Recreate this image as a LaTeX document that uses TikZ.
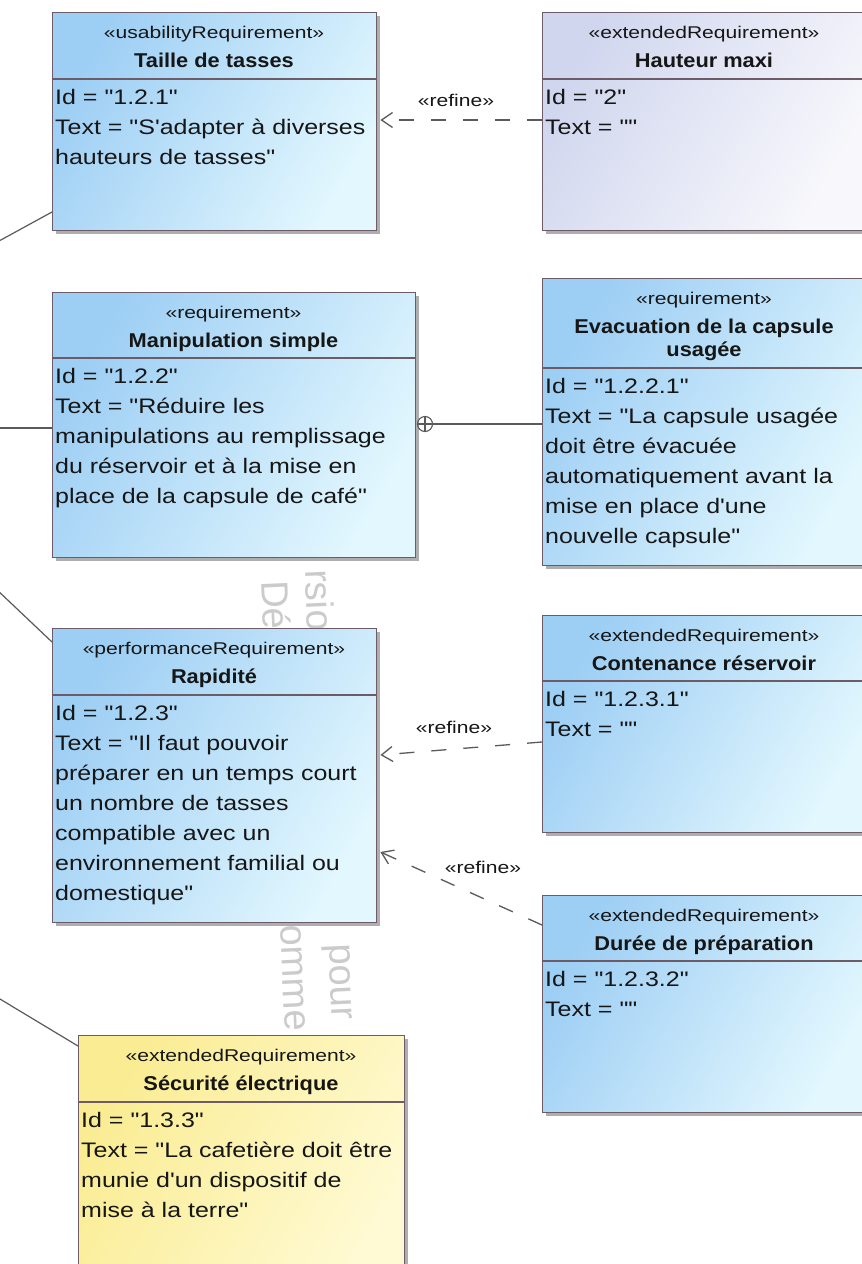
\documentclass[tikz,border=0pt]{standalone}
\usepackage{fontspec}
\setmainfont{Liberation Sans}
\newfontfamily\bodyf{Liberation Sans}[FakeStretch=1.19]
\newfontfamily\titlef{Liberation Sans}[FakeStretch=1.09]
\newfontfamily\sterf{Liberation Sans}[FakeStretch=1.24]
\usetikzlibrary{arrows.meta,shadows}
\definecolor{blueL}{HTML}{9DCEF4}
\definecolor{blueR}{HTML}{E2F7FE}
\definecolor{lavL}{HTML}{D0D6EE}
\definecolor{lavR}{HTML}{F8F8FC}
\definecolor{yelL}{HTML}{FAEC92}
\definecolor{yelR}{HTML}{FFFAD4}
\definecolor{bdr}{HTML}{6E5B68}
\definecolor{txt}{HTML}{161616}
\definecolor{lnk}{HTML}{5A5A5A}
\definecolor{wm}{HTML}{CBCBCB}
\tikzset{
  ster/.style={font=\sterf\fontsize{17}{20}\selectfont, text=txt, inner sep=0pt, anchor=base},
  ttl/.style={font=\titlef\bfseries\fontsize{20}{23}\selectfont, text=txt, inner sep=0pt, anchor=base},
  bod/.style={font=\bodyf\fontsize{21}{30}\selectfont, text=txt, inner sep=0pt, anchor=base west},
  reqbox/.style={draw=bdr, line width=1.4pt, rectangle, inner sep=0pt, anchor=north west,
    drop shadow={shadow xshift=3pt,shadow yshift=-3pt,fill=black!45,opacity=.7}},
  bluef/.style={left color=blueL, right color=blueR, shading angle=60},
  lavf/.style={left color=lavL, right color=lavR, shading angle=60},
  yelf/.style={left color=yelL, right color=yelR, shading angle=60},
  divl/.style={draw=bdr, line width=1.2pt},
  refl/.style={draw=lnk, line width=1.3pt, dash pattern=on 15pt off 17pt, -{Straight Barb[length=11pt,width=15pt]}},
  lbl/.style={font=\sterf\fontsize{17}{20}\selectfont, text=txt, inner sep=0pt, anchor=base},
  assoc/.style={draw=lnk, line width=1.2pt},
  wmk/.style={font=\fontsize{38}{40}\selectfont, text=wm, inner sep=0pt, rotate=-87.4},
}
\newcommand\boxhead[5]{%
  \node[ster] (#1-st) at (#2,#3+26) {#4};
  \foreach \t [count=\i] in {#5}{\node[ttl] (#1-t\i) at (#2,#3+55+23*\i-23) {\t};}
}
\newcommand\boxbody[4]{%
  \foreach \t [count=\i] in {#4}{\node[bod] (#1-b\i) at (#2,#3+30*\i-30) {\t};}
}
\begin{document}
\begin{tikzpicture}[x=1pt,y=-1pt]
\useasboundingbox (0,0) rectangle (862,1264);
\clip (0,0) rectangle (862,1264);
\fill[white] (0,0) rectangle (862,1264);

% watermark fragments
\node[wmk] (w1) at (320,600) {rsio};
\node[wmk] (w2) at (276,605) {Dé};
\node[wmk] (w3) at (337,982) {pour};
\node[wmk] (w4) at (293,978) {omme};

% boxes
\node[reqbox,bluef,minimum width=324pt,minimum height=218pt] (taille) at (52,12) {};
\node[reqbox,lavf,minimum width=324pt,minimum height=218pt] (hauteur) at (542,12) {};
\node[reqbox,bluef,minimum width=363pt,minimum height=265pt] (manip) at (52,292) {};
\node[reqbox,bluef,minimum width=324pt,minimum height=287pt] (evac) at (542,278) {};
\node[reqbox,bluef,minimum width=324pt,minimum height=294pt] (rapid) at (52,628) {};
\node[reqbox,bluef,minimum width=324pt,minimum height=217pt] (conten) at (542,615) {};
\node[reqbox,bluef,minimum width=324pt,minimum height=217pt] (duree) at (542,895) {};
\node[reqbox,yelf,minimum width=326pt,minimum height=260pt] (secu) at (78,1035) {};

% dividers
\draw[divl] (taille.west |- 0,79) -- (taille.east |- 0,79);
\draw[divl] (hauteur.west |- 0,79) -- (hauteur.east |- 0,79);
\draw[divl] (manip.west |- 0,358) -- (manip.east |- 0,358);
\draw[divl] (evac.west |- 0,368) -- (evac.east |- 0,368);
\draw[divl] (rapid.west |- 0,695) -- (rapid.east |- 0,695);
\draw[divl] (conten.west |- 0,681) -- (conten.east |- 0,681);
\draw[divl] (duree.west |- 0,961) -- (duree.east |- 0,961);
\draw[divl] (secu.west |- 0,1102) -- (secu.east |- 0,1102);

% headers
\boxhead{taille}{214}{12}{«usabilityRequirement»}{Taille de tasses}
\boxhead{hauteur}{704}{12}{«extendedRequirement»}{Hauteur maxi}
\boxhead{manip}{233.5}{292}{«requirement»}{Manipulation simple}
\boxhead{evac}{704}{278}{«requirement»}{Evacuation de la capsule,usagée}
\boxhead{rapid}{214}{628}{«performanceRequirement»}{Rapidité}
\boxhead{conten}{704}{615}{«extendedRequirement»}{Contenance réservoir}
\boxhead{duree}{704}{895}{«extendedRequirement»}{Durée de préparation}
\boxhead{secu}{241}{1035}{«extendedRequirement»}{Sécurité électrique}

% bodies
\boxbody{taille}{55}{104}{{Id = "1.2.1"},{Text = "S'adapter à diverses},{hauteurs de tasses"}}
\boxbody{hauteur}{545}{104}{{Id = "2"},{Text = ""}}
\boxbody{manip}{55}{383}{{Id = "1.2.2"},{Text = "Réduire les},{manipulations au remplissage},{du réservoir et à la mise en},{place de la capsule de café"}}
\boxbody{evac}{545}{393}{{Id = "1.2.2.1"},{Text = "La capsule usagée},{doit être évacuée},{automatiquement avant la},{mise en place d'une},{nouvelle capsule"}}
\boxbody{rapid}{55}{720}{{Id = "1.2.3"},{Text = "Il faut pouvoir},{préparer en un temps court},{un nombre de tasses},{compatible avec un},{environnement familial ou},{domestique"}}
\boxbody{conten}{545}{706}{{Id = "1.2.3.1"},{Text = ""}}
\boxbody{duree}{545}{986}{{Id = "1.2.3.2"},{Text = ""}}
\boxbody{secu}{81}{1127}{{Id = "1.3.3"},{Text = "La cafetière doit être},{munie d'un dispositif de},{mise à la terre"}}

% refine connectors
\draw[refl] (hauteur.west |- 0,120) -- ([xshift=3pt]taille.east |- 0,120);
\draw[refl] (conten.west |- 0,742) -- ([xshift=3pt]rapid.east |- 0,755);
\draw[refl] (duree.west |- 0,925) -- ([xshift=3pt]rapid.east |- 0,852);
\node[lbl] (lr1) at (456,106) {«refine»};
\node[lbl] (lr2) at (454,733) {«refine»};
\node[lbl] (lr3) at (483,873) {«refine»};

% containment
\node[draw=lnk, circle, line width=1.1pt, minimum size=15pt, inner sep=0pt] (opl) at (425,424) {};
\draw[assoc] (opl.north) -- (opl.south) (opl.west) -- (opl.east);
\draw[assoc] (evac.west |- 0,424) -- (opl.east);

% connectors from outside the view
\coordinate (ex1) at (-5,243.2);
\coordinate (ex2) at (-5,428);
\coordinate (ex3) at (-5,588);
\coordinate (ex4) at (-5,996);
\draw[assoc] (ex1) -- (taille.west |- 0,212);
\draw[assoc] (ex2) -- (manip.west |- 0,428);
\draw[assoc] (ex3) -- (rapid.west |- 0,642);
\draw[assoc] (ex4) -- (secu.west |- 0,1046);
\end{tikzpicture}
\end{document}
